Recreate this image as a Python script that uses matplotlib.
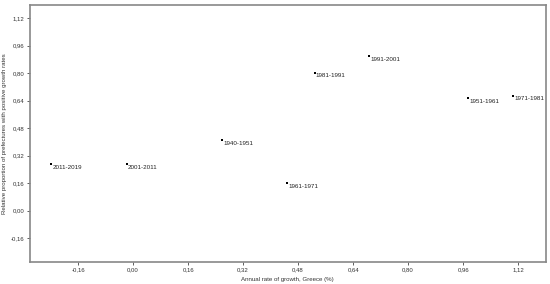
import matplotlib
matplotlib.use("Agg")
from matplotlib import pyplot as plt
from matplotlib.ticker import FixedLocator, FuncFormatter

# values
periods = ["2011-2019", "2001-2011", "1940-1951", "1961-1971",
           "1981-1991", "1991-2001", "1951-1961", "1971-1981"]
growth = [-0.238, -0.019, 0.260, 0.448, 0.528, 0.687, 0.975, 1.106]
proportion = [0.273, 0.273, 0.409, 0.162, 0.804, 0.899, 0.654, 0.670]
ticks = [-0.16, 0.00, 0.16, 0.32, 0.48, 0.64, 0.80, 0.96, 1.12]

plt.rcParams["font.family"] = ["Liberation Sans", "DejaVu Sans"]
fig = plt.figure(figsize=(5.5, 2.84), dpi=100)
ax = fig.add_axes([0.0545, 0.0775, 0.9375, 0.9065])

ax.scatter(growth, proportion, s=2.5, marker="s", color="black",
           linewidths=0, zorder=3)
for p, gx, gy in zip(periods, growth, proportion):
    ax.annotate(p, (gx, gy), xytext=(0.8, -2.5), textcoords="offset points",
                fontsize=4.5, color="#222222", va="center", ha="left")

ax.set_xlim(-0.30, 1.20)
ax.set_ylim(-0.30, 1.20)
fmt = FuncFormatter(lambda v, pos: ("%.2f" % v).replace(".", ","))
ax.xaxis.set_major_locator(FixedLocator(ticks))
ax.yaxis.set_major_locator(FixedLocator(ticks))
ax.xaxis.set_major_formatter(fmt)
ax.yaxis.set_major_formatter(fmt)
ax.tick_params(labelsize=4.3, length=2, width=0.6, color="#444444",
               labelcolor="#333333", pad=2)
for s in ax.spines.values():
    s.set_color("#888888")
    s.set_linewidth(1.2)

ax.set_xlabel("Annual rate of growth, Greece (%)", fontsize=4.4, color="#333333", labelpad=3)
ax.set_ylabel("Relative proportion of prefectures with positive growth rates",
              fontsize=4.4, color="#333333", labelpad=3)

fig.savefig("out.png", dpi=100)
